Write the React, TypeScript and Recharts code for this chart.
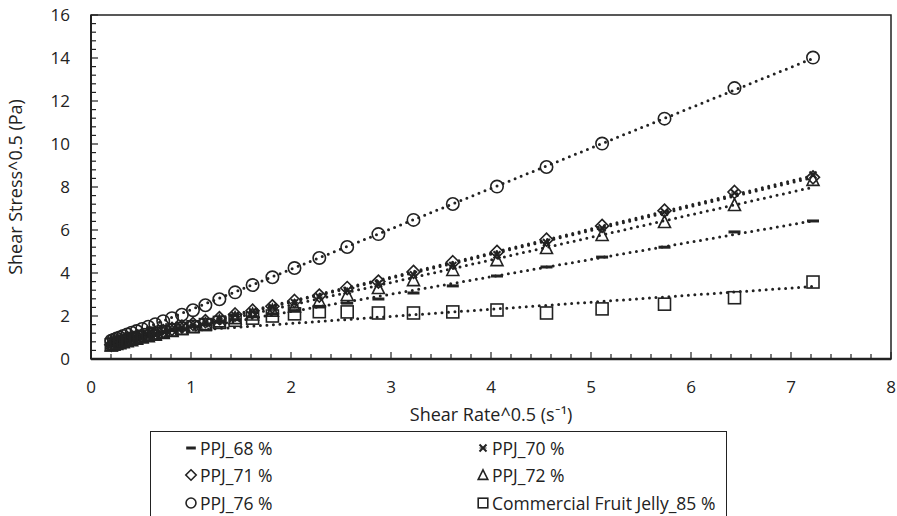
import React from 'react';
import { ScatterChart, Scatter, XAxis, YAxis, ReferenceLine, ReferenceArea, Legend, Label } from 'recharts';

// square root of shear rate (s^-0.5)
const shearRate = [
  0.203, 0.228, 0.256, 0.287, 0.322, 0.362, 0.406, 0.456, 0.511, 0.573, 0.643,
  0.722, 0.81, 0.909, 1.02, 1.144, 1.284, 1.441, 1.616, 1.814, 2.035, 2.283,
  2.562, 2.874, 3.225, 3.618, 4.06, 4.555, 5.111, 5.735, 6.435, 7.22,
];

const ppj68 = [
  0.65, 0.68, 0.72, 0.76, 0.8, 0.85, 0.9, 0.96, 1.02, 1.09, 1.16,
  1.24, 1.32, 1.41, 1.5, 1.6, 1.71, 1.83, 1.96, 2.1, 2.25, 2.42,
  2.6, 2.79, 3.07, 3.4, 3.86, 4.28, 4.74, 5.2, 5.91, 6.42,
];
const ppj70 = [
  0.65, 0.68, 0.72, 0.76, 0.81, 0.86, 0.92, 0.98, 1.05, 1.12, 1.2,
  1.28, 1.38, 1.48, 1.6, 1.72, 1.87, 2.03, 2.2, 2.4, 2.62, 2.88,
  3.18, 3.5, 3.92, 4.35, 4.85, 5.42, 6.1, 6.84, 7.72, 8.56,
];
const ppj71 = [
  0.66, 0.69, 0.73, 0.77, 0.82, 0.87, 0.93, 0.99, 1.06, 1.13, 1.21,
  1.3, 1.4, 1.51, 1.63, 1.76, 1.9, 2.07, 2.25, 2.45, 2.7, 2.95,
  3.3, 3.6, 4.05, 4.5, 4.98, 5.55, 6.19, 6.9, 7.77, 8.45,
];
const ppj72 = [
  0.63, 0.66, 0.7, 0.74, 0.78, 0.83, 0.88, 0.94, 1.0, 1.06, 1.13,
  1.21, 1.3, 1.4, 1.5, 1.62, 1.75, 1.9, 2.07, 2.25, 2.45, 2.7,
  2.98, 3.3, 3.67, 4.14, 4.6, 5.16, 5.77, 6.37, 7.16, 8.33,
];
const ppj76 = [
  0.85, 0.9, 0.95, 1.0, 1.07, 1.14, 1.22, 1.3, 1.4, 1.5, 1.62,
  1.76, 1.9, 2.06, 2.27, 2.5, 2.78, 3.1, 3.44, 3.8, 4.23, 4.7,
  5.21, 5.81, 6.47, 7.21, 8.02, 8.93, 10.02, 11.18, 12.6, 14.02,
];
const commercial85 = [
  0.66, 0.7, 0.74, 0.78, 0.83, 0.88, 0.94, 1.0, 1.06, 1.13, 1.2,
  1.27, 1.35, 1.42, 1.5, 1.6, 1.7, 1.8, 1.9, 2.0, 2.1, 2.2,
  2.19, 2.14, 2.14, 2.19, 2.28, 2.14, 2.33, 2.55, 2.85, 3.58,
];

const xMajorTicks = [0, 1, 2, 3, 4, 5, 6, 7, 8];
const yMajorTicks = [0, 2, 4, 6, 8, 10, 12, 14, 16];

const INK = '#222';
const FONT = '"Open Sans", Lato, sans-serif';

type Kind = 'dash' | 'cross' | 'diamond' | 'triangle' | 'circle' | 'square';

const series: { name: string; values: number[]; kind: Kind }[] = [
  { name: 'PPJ_68 %', values: ppj68, kind: 'dash' },
  { name: 'PPJ_70 %', values: ppj70, kind: 'cross' },
  { name: 'PPJ_71 %', values: ppj71, kind: 'diamond' },
  { name: 'PPJ_72 %', values: ppj72, kind: 'triangle' },
  { name: 'PPJ_76 %', values: ppj76, kind: 'circle' },
  { name: 'Commercial Fruit Jelly_85 %', values: commercial85, kind: 'square' },
];

// minor ticks every fifth of a major step, as Excel does
const withMinor = (majors: number[]) => {
  const step = (majors[1] - majors[0]) / 5;
  const out: number[] = [];
  for (let i = 0; i <= (majors.length - 1) * 5; i++) out.push(+(majors[0] + i * step).toFixed(2));
  return out;
};

function linearFit(xs: number[], ys: number[]) {
  const n = xs.length;
  const mx = xs.reduce((a, b) => a + b, 0) / n;
  const my = ys.reduce((a, b) => a + b, 0) / n;
  let sxy = 0, sxx = 0;
  xs.forEach((x, i) => { sxy += (x - mx) * (ys[i] - my); sxx += (x - mx) * (x - mx); });
  const slope = sxy / sxx;
  return { slope, intercept: my - slope * mx };
}

function MarkerGlyph({ kind, cx, cy, s = 1 }: { kind: Kind; cx: number; cy: number; s?: number }) {
  const common = { fill: 'none', stroke: INK, strokeWidth: 1.6 };
  switch (kind) {
    case 'dash':
      return <rect x={cx - 6 * s} y={cy - 1.5} width={12 * s} height={3} fill={INK} />;
    case 'cross':
      return (
        <g stroke={INK} strokeWidth={2}>
          <line x1={cx - 3.5} y1={cy - 3.5} x2={cx + 3.5} y2={cy + 3.5} />
          <line x1={cx - 3.5} y1={cy + 3.5} x2={cx + 3.5} y2={cy - 3.5} />
          <line x1={cx - 3.5} y1={cy} x2={cx + 3.5} y2={cy} strokeWidth={1} />
        </g>
      );
    case 'diamond':
      return <path d={`M${cx},${cy - 6.5 * s}L${cx + 6.5 * s},${cy}L${cx},${cy + 6.5 * s}L${cx - 6.5 * s},${cy}Z`} {...common} />;
    case 'triangle':
      return <path d={`M${cx},${cy - 6.5 * s}L${cx + 6 * s},${cy + 5.5 * s}L${cx - 6 * s},${cy + 5.5 * s}Z`} {...common} />;
    case 'circle':
      return <circle cx={cx} cy={cy} r={6.2 * s} {...common} />;
    case 'square':
      return <rect x={cx - 6 * s} y={cy - 6 * s} width={12 * s} height={12 * s} {...common} />;
  }
}

const XTick = (props: any) => {
  const { x, y, payload } = props;
  const v = payload.value;
  const major = xMajorTicks.some(t => Math.abs(t - v) < 1e-6);
  return (
    <g>
      <line x1={x} y1={y} x2={x} y2={y - (major ? 7 : 5)} stroke={INK} strokeWidth={1.2} />
      {major && (
        <text x={x} y={y + 34} textAnchor="middle" fontFamily={FONT} fontSize={17} fill={INK}>{v}</text>
      )}
    </g>
  );
};

const YTick = (props: any) => {
  const { x, y, payload } = props;
  const v = payload.value;
  const major = yMajorTicks.some(t => Math.abs(t - v) < 1e-6);
  return (
    <g>
      <line x1={x} y1={y} x2={x + (major ? 7 : 5)} y2={y} stroke={INK} strokeWidth={1.2} />
      {major && (
        <text x={x - 21} y={y + 6} textAnchor="end" fontFamily={FONT} fontSize={17} fill={INK}>{v}</text>
      )}
    </g>
  );
};

const LegendBox = () => (
  <div
    style={{
      position: 'relative', width: 577, height: 100, boxSizing: 'border-box',
      border: `1.5px solid ${INK}`, borderBottom: 'none', fontFamily: FONT, fontSize: 17.5, color: INK,
    }}
  >
    {series.map((s, i) => {
      const col = i % 2;
      const row = Math.floor(i / 2);
      const cx = col === 0 ? 40 : 332;
      const cy = [16, 43, 71][row];
      return (
        <div key={s.name} style={{ position: 'absolute', left: cx - 7, top: cy - 12, height: 24, display: 'flex', alignItems: 'center', whiteSpace: 'nowrap' }}>
          <svg width={14} height={14} style={{ marginRight: 2 }}>
            <MarkerGlyph kind={s.kind} cx={7} cy={7} s={0.8} />
          </svg>
          <span>{s.name}</span>
        </div>
      );
    })}
  </div>
);

export default function App() {
  const chartData = series.map(s => shearRate.map((x, i) => ({ x, y: s.values[i] })));
  const xMin = Math.min(...shearRate);
  const xMax = Math.max(...shearRate);
  const fits = series.map(s => linearFit(shearRate, s.values));

  return (
    <div style={{ width: 897, height: 516, position: 'relative', overflow: 'hidden', background: '#fff' }}>
      <style>{'body{margin:0}'}</style>
      <ScatterChart width={897} height={516} margin={{ top: 15, right: 6, left: 0, bottom: 97 }}>
        <XAxis
          type="number"
          dataKey="x"
          domain={[0, 8]}
          ticks={withMinor(xMajorTicks)}
          interval={0}
          height={60}
          tickSize={0}
          tickMargin={0}
          tickLine={false}
          tick={<XTick />}
          axisLine={{ stroke: INK, strokeWidth: 2.5 }}
        >
          <Label
            content={(p: any) => {
              const vb = p.viewBox;
              return (
                <text x={vb.x + vb.width / 2} y={vb.y + 62} textAnchor="middle" fontFamily={FONT} fontSize={18} fill={INK}>
                  Shear Rate^0.5 (s⁻¹)
                </text>
              );
            }}
          />
        </XAxis>
        <YAxis
          type="number"
          dataKey="y"
          domain={[0, 16]}
          ticks={withMinor(yMajorTicks)}
          interval={0}
          width={91}
          tickSize={0}
          tickMargin={0}
          tickLine={false}
          tick={<YTick />}
          axisLine={{ stroke: INK, strokeWidth: 2 }}
        >
          <Label
            content={(p: any) => {
              const vb = p.viewBox;
              const cy = vb.y + vb.height / 2;
              return (
                <text x={22} y={cy} transform={`rotate(-90 22 ${cy})`} textAnchor="middle" fontFamily={FONT} fontSize={18} fill={INK}>
                  Shear Stress^0.5 (Pa)
                </text>
              );
            }}
          />
        </YAxis>
        <ReferenceArea x1={0} x2={8} y1={0} y2={16} fill="none" stroke={INK} strokeWidth={1.5} />
        {series.map((s, i) => (
          <Scatter
            key={s.name}
            name={s.name}
            data={chartData[i]}
            isAnimationActive={false}
            shape={(p: any) => <MarkerGlyph kind={s.kind} cx={p.cx} cy={p.cy} />}
          />
        ))}
        {series.map((s, i) => (
          <ReferenceLine
            key={'fit-' + s.name}
            segment={[
              { x: xMin, y: fits[i].intercept + fits[i].slope * xMin },
              { x: xMax, y: fits[i].intercept + fits[i].slope * xMax },
            ]}
            stroke={INK}
            strokeWidth={3}
            strokeDasharray="0 6.5"
            strokeLinecap="round"
            ifOverflow="visible"
          />
        ))}
        <Legend
          layout="horizontal"
          verticalAlign="middle"
          wrapperStyle={{ left: 150, top: 431, width: 577 }}
          content={() => <LegendBox />}
        />
      </ScatterChart>
    </div>
  );
}
